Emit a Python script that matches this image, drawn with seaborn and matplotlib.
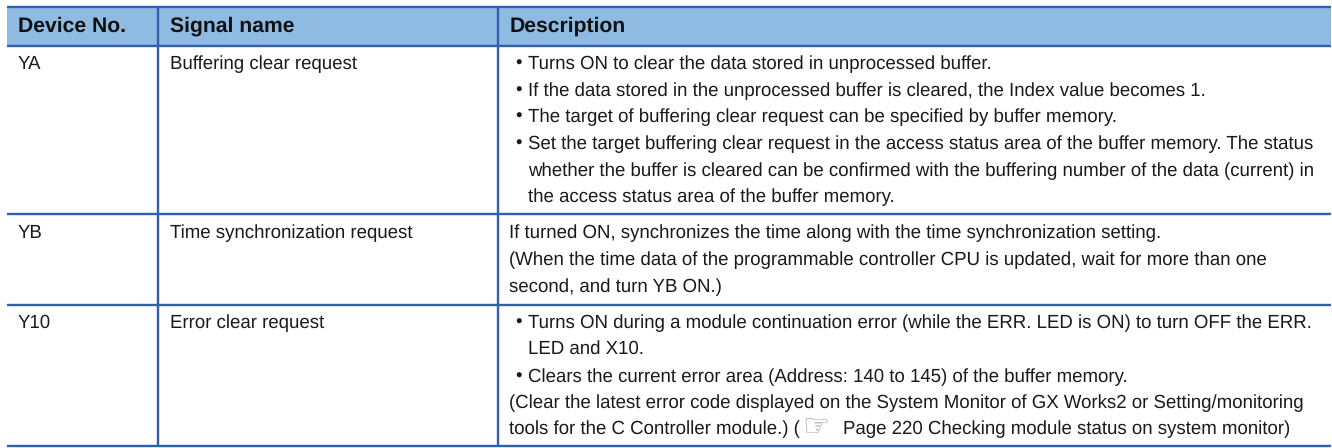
import seaborn as sns
import matplotlib.pyplot as plt

# Table content
headers = ['Device No.', 'Signal name', 'Description']
devices = ['YA', 'YB', 'Y10']
signals = ['Buffering clear request', 'Time synchronization request', 'Error clear request']
# (bullet, hanging indent, text)
desc_ya = [
    (True, True, 'Turns ON to clear the data stored in unprocessed buffer.'),
    (True, True, 'If the data stored in the unprocessed buffer is cleared, the Index value becomes 1.'),
    (True, True, 'The target of buffering clear request can be specified by buffer memory.'),
    (True, True, 'Set the target buffering clear request in the access status area of the buffer memory. The status'),
    (False, True, 'whether the buffer is cleared can be confirmed with the buffering number of the data (current) in'),
    (False, True, 'the access status area of the buffer memory.'),
]
desc_yb = [
    (False, False, 'If turned ON, synchronizes the time along with the time synchronization setting.'),
    (False, False, '(When the time data of the programmable controller CPU is updated, wait for more than one'),
    (False, False, 'second, and turn YB ON.)'),
]
desc_y10 = [
    (True, True, 'Turns ON during a module continuation error (while the ERR. LED is ON) to turn OFF the ERR.'),
    (False, True, 'LED and X10.'),
    (True, True, 'Clears the current error area (Address: 140 to 145) of the buffer memory.'),
    (False, False, '(Clear the latest error code displayed on the System Monitor of GX Works2 or Setting/monitoring'),
    (False, False, 'tools for the C Controller module.) ('),
]
page_ref = 'Page 220 Checking module status on system monitor)'

# Layout in pixels
col_x = [7, 158, 498, 1331]
row_y = [7, 46, 214.5, 305, 446.5]
text_x = [18, 169.5]
baselines = [
    [69, 95.7, 122, 149, 175.7, 202],
    [238, 265, 291.7],
    [327.7, 354, 381.7, 407.7, 434],
]

LINE = '#2f5fad'
HEAD = '#8fbbe2'
INK = '#1a1a1a'
FS = 13.45

sns.set_theme(style='white')
plt.rcParams['font.family'] = ['Liberation Sans', 'DejaVu Sans']
plt.rcParams['text.hinting'] = 'no_hinting'
plt.rcParams['text.hinting_factor'] = 8

fig = plt.figure(figsize=(13.32, 4.48), dpi=100)
ax = fig.add_axes([0, 0, 1, 1])
ax.set_xlim(0, 1332)
ax.set_ylim(448, 0)
ax.axis('off')

ax.axhspan(row_y[0], row_y[1], xmin=col_x[0] / 1332, xmax=col_x[3] / 1332, color=HEAD, lw=0)
ax.hlines(row_y, col_x[0], col_x[3], color=LINE, lw=1.7)
ax.vlines(col_x[1:3], row_y[0], row_y[-1], color=LINE, lw=1.7)

for x, name in zip(text_x + [509.3], headers):
    ax.text(x, 32, name, fontsize=15.2, fontweight='bold', color='#111111', va='baseline')

for base, dev, sig, lines in zip(baselines, devices, signals, [desc_ya, desc_yb, desc_y10]):
    ax.text(text_x[0], base[0], dev, fontsize=FS, color=INK, va='baseline')
    ax.text(text_x[1], base[0], sig, fontsize=FS, color=INK, va='baseline')
    for y, (bullet, hanging, txt) in zip(base, lines):
        if bullet:
            ax.text(515.5, y, '•', fontsize=FS, color=INK, va='baseline')
        ax.text(527.7 if hanging else 509.3, y, txt, fontsize=FS, color=INK, va='baseline')

# page reference with the pointing hand
ax.text(802, 436, '\u261e', fontsize=22, family='DejaVu Sans', color='#9a9a9a', va='baseline')
ax.text(842.7, 434, page_ref, fontsize=FS, color=INK, va='baseline')

fig.savefig('out.png', dpi=100)
